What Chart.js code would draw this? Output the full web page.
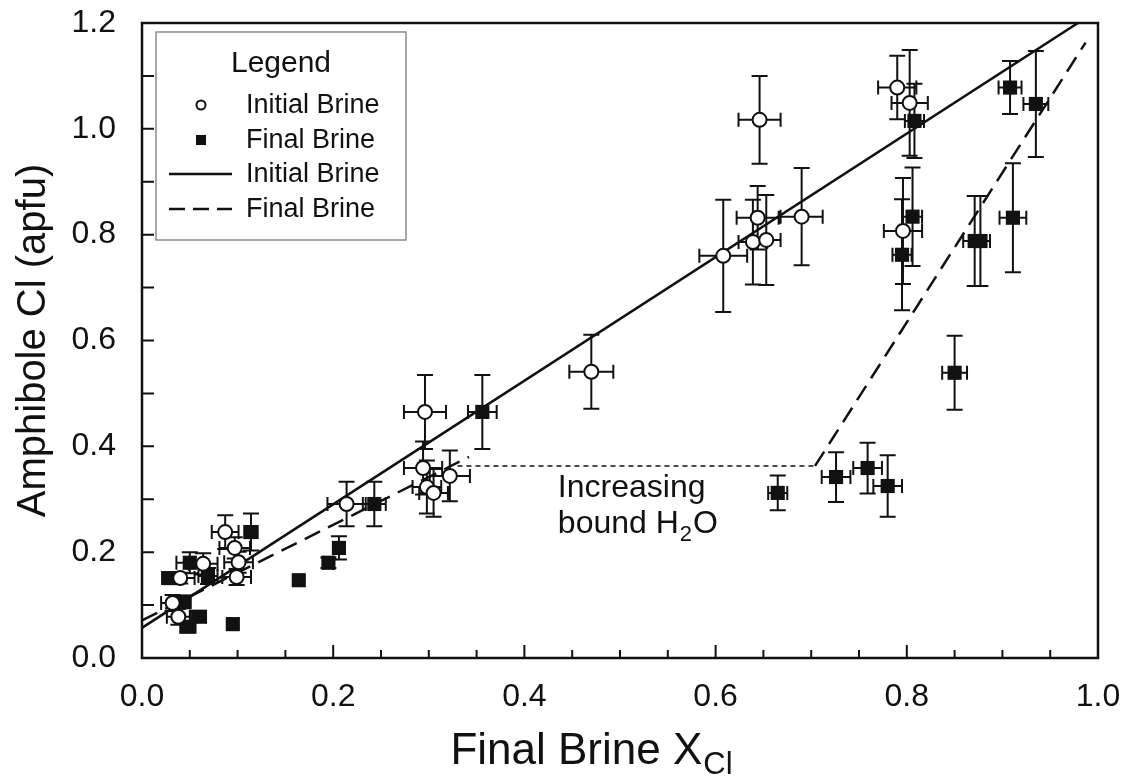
<!DOCTYPE html>
<html lang="en">
<head>
<meta charset="UTF-8">
<title>Amphibole Cl vs Final Brine XCl</title>
<script src="https://cdn.jsdelivr.net/npm/chart.js"></script>
<style>
  body { margin: 0; background: #fff; }
</style>
</head>
<body>
<canvas id="chart" width="1128" height="779"></canvas>
<script>
// open circles: initial brine composition
const initialX    = [0.087, 0.097, 0.101, 0.064, 0.099, 0.040, 0.032, 0.038, 0.214, 0.296, 0.294, 0.322, 0.298, 0.305, 0.470, 0.608, 0.639, 0.653, 0.644, 0.646, 0.690, 0.796, 0.790, 0.803];
const initialY    = [0.238, 0.208, 0.181, 0.178, 0.153, 0.151, 0.104, 0.078, 0.291, 0.465, 0.359, 0.344, 0.323, 0.312, 0.541, 0.760, 0.786, 0.790, 0.832, 1.017, 0.834, 0.807, 1.078, 1.049];
const initialXErr = [0.014, 0.016, 0.015, 0.015, 0.015, 0.015, 0.012, 0.012, 0.020, 0.022, 0.020, 0.021, 0.015, 0.015, 0.023, 0.025, 0.015, 0.015, 0.022, 0.022, 0.022, 0.020, 0.020, 0.019];
const initialYErr = [0.032, 0.020, 0.020, 0.020, 0.015, 0.010, 0.015, 0.015, 0.042, 0.070, 0.050, 0.048, 0.050, 0.045, 0.070, 0.106, 0.080, 0.085, 0.060, 0.083, 0.092, 0.100, 0.060, 0.100];

// filled squares: final brine composition
const finalX    = [0.029, 0.050, 0.069, 0.114, 0.043, 0.059, 0.048, 0.095, 0.164, 0.195, 0.206, 0.243, 0.356, 0.665, 0.726, 0.759, 0.780, 0.795, 0.806, 0.808, 0.850, 0.871, 0.877, 0.908, 0.911, 0.935];
const finalY    = [0.151, 0.180, 0.155, 0.238, 0.106, 0.078, 0.059, 0.064, 0.147, 0.180, 0.208, 0.291, 0.465, 0.312, 0.342, 0.359, 0.325, 0.762, 0.834, 1.015, 0.539, 0.788, 0.788, 1.078, 0.832, 1.047];
const finalXErr = [0.008, 0.014, 0.010, 0.007, 0.008, 0.008, 0.008, 0, 0, 0.005, 0.005, 0.012, 0.015, 0.010, 0.015, 0.015, 0.015, 0.010, 0.010, 0.010, 0.013, 0.012, 0.010, 0.012, 0.014, 0.013];
const finalYErr = [0.010, 0.020, 0.015, 0.035, 0.012, 0.010, 0.010, 0, 0, 0.010, 0.022, 0.042, 0.070, 0.033, 0.047, 0.048, 0.058, 0.105, 0.093, 0.070, 0.070, 0.085, 0.085, 0.050, 0.103, 0.100];

// trend lines
const solidLineX = [0, 0.979];
const solidLineY = [0.057, 1.2];
const dashedLowX = [0, 0.342];
const dashedLowY = [0.071, 0.380];
const dashedHighX = [0.704, 0.987];
const dashedHighY = [0.363, 1.163];
const dottedX = [0.33, 0.704];
const dottedY = [0.363, 0.363];

// axis ticks
const xTicks = [0, 0.2, 0.4, 0.6, 0.8, 1.0];
const xMinorTicks = [0.05, 0.1, 0.15, 0.2, 0.25, 0.3, 0.35, 0.4, 0.45, 0.5, 0.55, 0.6, 0.65, 0.7, 0.75, 0.8, 0.85, 0.9, 0.95];
const yTicks = [0, 0.2, 0.4, 0.6, 0.8, 1.0, 1.2];
const yMinorTicks = [0.1, 0.2, 0.3, 0.4, 0.5, 0.6, 0.7, 0.8, 0.9, 1.0, 1.1];

const FONT = "'Liberation Sans', Arial, Helvetica, sans-serif";
const INK = '#111';

const toPoints = (xs, ys) => xs.map((v, i) => ({ x: v, y: ys[i] }));

function errorBars(ctx, xs, ys, xe, ye, sx, sy) {
  ctx.beginPath();
  for (let i = 0; i < xs.length; i++) {
    const px = sx.getPixelForValue(xs[i]);
    const py = sy.getPixelForValue(ys[i]);
    if (ye[i] > 0) {
      const t = sy.getPixelForValue(ys[i] + ye[i]);
      const b = sy.getPixelForValue(ys[i] - ye[i]);
      ctx.moveTo(px, t); ctx.lineTo(px, b);
      ctx.moveTo(px - 8, t); ctx.lineTo(px + 8, t);
      ctx.moveTo(px - 8, b); ctx.lineTo(px + 8, b);
    }
    if (xe[i] > 0) {
      const l = sx.getPixelForValue(xs[i] - xe[i]);
      const r = sx.getPixelForValue(xs[i] + xe[i]);
      ctx.moveTo(l, py); ctx.lineTo(r, py);
      ctx.moveTo(l, py - 7); ctx.lineTo(l, py + 7);
      ctx.moveTo(r, py - 7); ctx.lineTo(r, py + 7);
    }
  }
  ctx.stroke();
}

const errorBarPlugin = {
  id: 'errorBars',
  beforeDatasetsDraw(chart) {
    const { ctx, scales: { x, y } } = chart;
    ctx.save();
    ctx.strokeStyle = INK;
    ctx.lineWidth = 2;
    errorBars(ctx, initialX, initialY, initialXErr, initialYErr, x, y);
    errorBars(ctx, finalX, finalY, finalXErr, finalYErr, x, y);
    ctx.restore();
  }
};

const framePlugin = {
  id: 'frame',
  afterDatasetsDraw(chart) {
    const { ctx, chartArea: a, scales: { x, y } } = chart;
    ctx.save();
    ctx.strokeStyle = INK;
    ctx.lineWidth = 2.5;
    ctx.strokeRect(a.left, a.top, a.right - a.left, a.bottom - a.top);
    ctx.lineWidth = 2;
    ctx.beginPath();
    xMinorTicks.forEach(v => {
      const px = x.getPixelForValue(v);
      const len = xTicks.some(t => Math.abs(t - v) < 1e-6) ? 13 : 8;
      ctx.moveTo(px, a.bottom); ctx.lineTo(px, a.bottom - len);
    });
    yMinorTicks.forEach(v => {
      const py = y.getPixelForValue(v);
      ctx.moveTo(a.left, py); ctx.lineTo(a.left + 12, py);
    });
    ctx.stroke();
    ctx.restore();
  }
};

const textPlugin = {
  id: 'texts',
  afterDraw(chart) {
    const { ctx, scales: { x, y } } = chart;
    ctx.save();
    ctx.fillStyle = INK;
    ctx.textBaseline = 'alphabetic';

    // x axis title with subscript
    ctx.font = `44px ${FONT}`;
    const main = 'Final Brine X';
    const wMain = ctx.measureText(main).width;
    ctx.font = `31px ${FONT}`;
    const wSub = ctx.measureText('Cl').width;
    const start = 591 - (wMain + wSub) / 2;
    ctx.font = `44px ${FONT}`;
    ctx.fillText(main, start, 764);
    ctx.font = `31px ${FONT}`;
    ctx.fillText('Cl', start + wMain + 1, 774);

    // annotation next to the dotted shift line
    const ax = x.getPixelForValue(0.435);
    const ay = y.getPixelForValue(0.305);
    ctx.font = `32px ${FONT}`;
    ctx.fillText('Increasing', ax, ay);
    const line2 = 'bound H';
    ctx.fillText(line2, ax, ay + 36);
    const w2 = ctx.measureText(line2).width;
    ctx.font = `22px ${FONT}`;
    ctx.fillText('2', ax + w2 + 1, ay + 44);
    const w3 = ctx.measureText('2').width;
    ctx.font = `32px ${FONT}`;
    ctx.fillText('O', ax + w2 + w3 + 2, ay + 36);

    // legend box
    const bx = 156, by = 32, bw = 250, bh = 208;
    ctx.fillStyle = '#fff';
    ctx.fillRect(bx, by, bw, bh);
    ctx.strokeStyle = '#8a8a8a';
    ctx.lineWidth = 1.5;
    ctx.strokeRect(bx, by, bw, bh);
    ctx.fillStyle = INK;
    ctx.textAlign = 'center';
    ctx.textBaseline = 'middle';
    ctx.font = `30px ${FONT}`;
    ctx.fillText('Legend', 281, 64);
    ctx.textAlign = 'left';
    ctx.font = `27px ${FONT}`;
    const rows = [105, 140, 174, 209];
    const labels = chart.data.datasets.slice(0, 4).map(d => d.label);
    labels.forEach((lab, i) => ctx.fillText(lab, 246, rows[i] + 1));
    ctx.strokeStyle = INK;
    ctx.lineWidth = 2;
    ctx.beginPath();
    ctx.arc(201, rows[0], 4.5, 0, Math.PI * 2);
    ctx.fillStyle = '#fff';
    ctx.fill();
    ctx.stroke();
    ctx.fillStyle = INK;
    ctx.fillRect(196, rows[1] - 5, 10, 10);
    ctx.lineWidth = 2.5;
    ctx.beginPath();
    ctx.moveTo(169, rows[2]); ctx.lineTo(232, rows[2]);
    ctx.stroke();
    ctx.setLineDash([16, 8]);
    ctx.beginPath();
    ctx.moveTo(169, rows[3]); ctx.lineTo(232, rows[3]);
    ctx.stroke();
    ctx.restore();
  }
};

const dashedData = toPoints(dashedLowX, dashedLowY)
  .concat([{ x: 0.5, y: null }])
  .concat(toPoints(dashedHighX, dashedHighY));

new Chart(document.getElementById('chart'), {
  type: 'scatter',
  data: {
    datasets: [
      {
        label: 'Initial Brine',
        data: toPoints(initialX, initialY),
        pointStyle: 'circle',
        pointRadius: 7,
        pointBackgroundColor: '#fff',
        pointBorderColor: INK,
        pointBorderWidth: 2
      },
      {
        label: 'Final Brine',
        data: toPoints(finalX, finalY),
        pointStyle: 'rect',
        pointRadius: 10,
        pointBackgroundColor: INK,
        pointBorderColor: INK,
        pointBorderWidth: 0
      },
      {
        label: 'Initial Brine',
        data: toPoints(solidLineX, solidLineY),
        showLine: true,
        pointRadius: 0,
        borderColor: INK,
        borderWidth: 2.5
      },
      {
        label: 'Final Brine',
        data: dashedData,
        showLine: true,
        spanGaps: false,
        pointRadius: 0,
        borderColor: INK,
        borderWidth: 2.5,
        borderDash: [17, 9]
      },
      {
        label: 'bound H2O shift',
        data: toPoints(dottedX, dottedY),
        showLine: true,
        pointRadius: 0,
        borderColor: INK,
        borderWidth: 1.5,
        borderDash: [5, 4]
      }
    ]
  },
  options: {
    responsive: false,
    animation: false,
    layout: { padding: { top: 23, right: 30, left: 0, bottom: 0 } },
    plugins: {
      legend: { display: false },
      tooltip: { enabled: false }
    },
    scales: {
      x: {
        type: 'linear',
        min: 0,
        max: 1,
        grid: { display: false },
        border: { display: false },
        afterBuildTicks: s => { s.ticks = xTicks.map(v => ({ value: v })); },
        afterFit: s => { s.height = 121; s.paddingLeft = 0; s.paddingRight = 0; },
        ticks: {
          padding: 12,
          autoSkip: false,
          maxRotation: 0,
          color: INK,
          font: { family: FONT, size: 32 },
          callback: v => Number(v).toFixed(1)
        }
      },
      y: {
        type: 'linear',
        min: 0,
        max: 1.2,
        grid: { display: false },
        border: { display: false },
        afterBuildTicks: s => { s.ticks = yTicks.map(v => ({ value: v })); },
        afterFit: s => { s.width = 142; s.paddingTop = 0; s.paddingBottom = 0; },
        title: {
          display: true,
          text: 'Amphibole Cl (apfu)',
          color: INK,
          font: { family: FONT, size: 40 },
          padding: { top: 10, bottom: 0 }
        },
        ticks: {
          padding: 18,
          autoSkip: false,
          color: INK,
          font: { family: FONT, size: 32 },
          callback: v => Number(v).toFixed(1)
        }
      }
    }
  },
  plugins: [errorBarPlugin, framePlugin, textPlugin]
});
</script>
</body>
</html>
